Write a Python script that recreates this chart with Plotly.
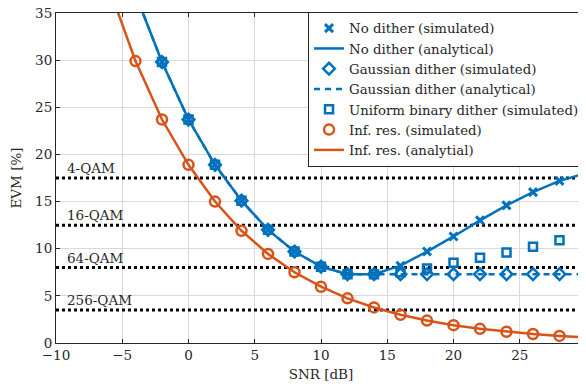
import plotly.graph_objects as go

# SNR grid
snr_blue = [-4, -2, 0, 2, 4, 6, 8, 10, 12, 14, 16, 18, 20, 22, 24, 26, 28, 30]
snr_blue_sim = [-2, 0, 2, 4, 6, 8, 10, 12, 14, 16, 18, 20, 22, 24, 26, 28, 30]
snr_orange = [-6, -4, -2, 0, 2, 4, 6, 8, 10, 12, 14, 16, 18, 20, 22, 24, 26, 28, 30]
snr_orange_sim = [-4, -2, 0, 2, 4, 6, 8, 10, 12, 14, 16, 18, 20, 22, 24, 26, 28, 30]

# No dither
nodither_analytical = [37.0, 29.8, 23.7, 18.9, 15.1, 12.0, 9.7, 8.1, 7.3, 7.3, 8.2, 9.7, 11.3, 13.0, 14.6, 16.0, 17.2, 18.0]
nodither_sim = [29.8, 23.7, 18.9, 15.1, 12.0, 9.7, 8.1, 7.3, 7.3, 8.2, 9.7, 11.3, 13.0, 14.6, 16.0, 17.2, 18.0]

# Gaussian dither
gauss_analytical = [37.0, 29.8, 23.7, 18.9, 15.1, 12.0, 9.7, 8.1, 7.3, 7.3, 7.3, 7.3, 7.3, 7.3, 7.3, 7.3, 7.3, 7.3]
gauss_sim = [29.8, 23.7, 18.9, 15.1, 12.0, 9.7, 8.1, 7.3, 7.3, 7.3, 7.3, 7.3, 7.3, 7.3, 7.3, 7.3, 7.3]

# Uniform binary dither
uniform_sim = [29.8, 23.7, 18.9, 15.1, 12.0, 9.7, 8.1, 7.3, 7.3, 7.5, 7.9, 8.5, 9.05, 9.6, 10.2, 10.9, 11.45]

# Infinite resolution
infres_analytical = [37.7, 29.9, 23.7, 18.9, 15.0, 11.9, 9.45, 7.5, 5.97, 4.74, 3.77, 2.99, 2.38, 1.89, 1.5, 1.19, 0.95, 0.75, 0.6]
infres_sim = [29.9, 23.7, 18.9, 15.0, 11.9, 9.45, 7.5, 5.97, 4.74, 3.77, 2.99, 2.38, 1.89, 1.5, 1.19, 0.95, 0.75, 0.6]

# QAM EVM thresholds
qam_labels = ["4-QAM", "16-QAM", "64-QAM", "256-QAM"]
qam_levels = [17.5, 12.5, 8.0, 3.5]

x_ticks = [-10, -5, 0, 5, 10, 15, 20, 25, 30]
x_ticktext = ["\u221210", "\u22125", "0", "5", "10", "15", "20", "25", "30"]
y_ticks = [0, 5, 10, 15, 20, 25, 30, 35]

BLUE = "#0072BD"
ORANGE = "#D95319"
FONT = "'DejaVu Serif', serif"
TXT = "#262626"

fig = go.Figure()

for lvl in qam_levels:
    fig.add_trace(go.Scatter(x=[-10, 30], y=[lvl, lvl], mode="lines",
                             line=dict(color="black", width=3, dash="3px,3px"),
                             showlegend=False, hoverinfo="skip"))

fig.add_trace(go.Scatter(x=snr_blue_sim, y=nodither_sim, mode="markers", name="No dither (simulated)",
                         marker=dict(symbol="x-thin", size=8, line=dict(color=BLUE, width=3), color=BLUE)))
fig.add_trace(go.Scatter(x=snr_blue, y=nodither_analytical, mode="lines", name="No dither (analytical)",
                         line=dict(color=BLUE, width=2.5)))
fig.add_trace(go.Scatter(x=snr_blue_sim, y=gauss_sim, mode="markers", name="Gaussian dither (simulated)",
                         marker=dict(symbol="diamond-open", size=9, color=BLUE, line=dict(width=2.5))))
fig.add_trace(go.Scatter(x=snr_blue, y=gauss_analytical, mode="lines", name="Gaussian dither (analytical)",
                         line=dict(color=BLUE, width=2.5, dash="6px,5px")))
fig.add_trace(go.Scatter(x=snr_blue_sim, y=uniform_sim, mode="markers", name="Uniform binary dither (simulated)",
                         marker=dict(symbol="square-open", size=8, color=BLUE, line=dict(width=2.5))))
fig.add_trace(go.Scatter(x=snr_orange_sim, y=infres_sim, mode="markers", name="Inf. res. (simulated)",
                         marker=dict(symbol="circle-open", size=10, color=ORANGE, line=dict(width=2.5))))
fig.add_trace(go.Scatter(x=snr_orange, y=infres_analytical, mode="lines", name="Inf. res. (analytial)",
                         line=dict(color=ORANGE, width=2.5)))

for lbl, lvl in zip(qam_labels, qam_levels):
    fig.add_annotation(x=-9.1, y=lvl, text=lbl, showarrow=False, xanchor="left", yanchor="bottom",
                       yshift=0, xshift=-3, font=dict(family=FONT, size=13.5, color=TXT))

axis_common = dict(showgrid=True, gridcolor="#d9d9d9", gridwidth=1, zeroline=False,
                   showline=True, linecolor=TXT, linewidth=1, mirror="allticks",
                   ticks="inside", ticklen=4, tickcolor=TXT, ticklabeloverflow="allow",
                   tickfont=dict(family=FONT, size=13.5, color=TXT))

fig.update_xaxes(range=[-10, 30], tickvals=x_ticks, ticktext=x_ticktext,
                 title=dict(text="SNR [dB]", font=dict(family=FONT, size=13.5, color=TXT), standoff=10),
                 automargin=False, **axis_common)
fig.update_yaxes(range=[0, 35], tickvals=y_ticks,
                 title=dict(text="EVM [%]", font=dict(family=FONT, size=13.5, color=TXT), standoff=10),
                 automargin=False, **axis_common)

# the page has an 8px body margin; figure size/margins compensate for it
fig.update_layout(
    width=578, height=374,
    margin=dict(l=48, r=0, t=5, b=39),
    plot_bgcolor="white", paper_bgcolor="white",
    legend=dict(x=0.4755, y=1.003, xanchor="left", yanchor="top",
                bgcolor="white", bordercolor=TXT, borderwidth=1,
                font=dict(family=FONT, size=13.3, color=TXT),
                tracegroupgap=0, itemwidth=30),
    font=dict(family=FONT),
)

fig.write_html("out.html")
